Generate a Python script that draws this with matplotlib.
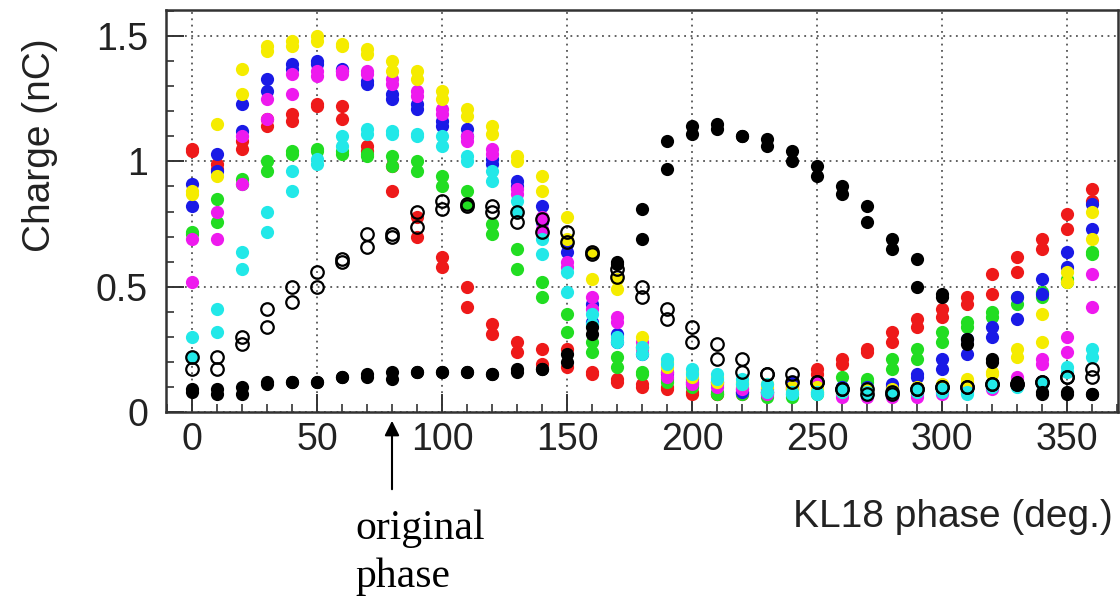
import numpy as np
import matplotlib
matplotlib.use("Agg")
import matplotlib.pyplot as plt
from matplotlib.ticker import MultipleLocator

# KL18 phase scan, two measurements per phase setting
phase = np.arange(0, 361, 10)

red_a = [1.05, 0.99, 1.08, 1.17, 1.19, 1.23, 1.22, 1.06, 0.98, 0.78, 0.62, 0.50, 0.35, 0.28, 0.25, 0.25, 0.16, 0.13, 0.11,
         0.10, 0.08, 0.07, 0.08, 0.08, 0.10, 0.17, 0.21, 0.25, 0.32, 0.37, 0.41, 0.46, 0.55, 0.62, 0.69, 0.79, 0.89]
red_b = [1.04, 0.97, 1.05, 1.14, 1.16, 1.22, 1.17, 1.04, 0.88, 0.70, 0.58, 0.42, 0.31, 0.24, 0.19, 0.18, 0.15, 0.12, 0.10,
         0.09, 0.07, 0.07, 0.07, 0.08, 0.09, 0.15, 0.19, 0.24, 0.28, 0.34, 0.38, 0.43, 0.47, 0.56, 0.65, 0.73, 0.84]

green_a = [0.72, 0.85, 0.93, 1.00, 1.04, 1.05, 1.04, 1.03, 1.02, 1.00, 0.94, 0.88, 0.75, 0.65, 0.52, 0.39, 0.28, 0.22, 0.16,
           0.13, 0.11, 0.08, 0.08, 0.07, 0.07, 0.08, 0.14, 0.13, 0.21, 0.25, 0.32, 0.36, 0.40, 0.46, 0.48, 0.53, 0.64]
green_b = [0.71, 0.76, 0.91, 0.96, 1.03, 1.04, 1.03, 1.02, 0.98, 0.96, 0.90, 0.83, 0.71, 0.57, 0.46, 0.32, 0.24, 0.18, 0.15,
           0.12, 0.10, 0.07, 0.07, 0.06, 0.06, 0.07, 0.10, 0.12, 0.17, 0.21, 0.28, 0.34, 0.38, 0.43, 0.46, 0.52, 0.63]

blue_a = [0.91, 1.03, 1.23, 1.33, 1.39, 1.40, 1.37, 1.32, 1.27, 1.23, 1.16, 1.13, 1.01, 0.92, 0.82, 0.67, 0.43, 0.31, 0.26,
          0.16, 0.13, 0.12, 0.09, 0.09, 0.12, 0.12, 0.10, 0.10, 0.11, 0.15, 0.21, 0.29, 0.34, 0.46, 0.53, 0.64, 0.83]
blue_b = [0.82, 0.96, 1.12, 1.28, 1.37, 1.39, 1.36, 1.31, 1.25, 1.21, 1.14, 1.10, 0.99, 0.90, 0.76, 0.64, 0.36, 0.28, 0.23,
          0.15, 0.12, 0.11, 0.08, 0.08, 0.11, 0.11, 0.09, 0.09, 0.10, 0.14, 0.17, 0.23, 0.30, 0.37, 0.47, 0.58, 0.73]

magenta_a = [0.69, 0.80, 1.10, 1.25, 1.35, 1.36, 1.36, 1.36, 1.33, 1.28, 1.21, 1.10, 1.05, 0.89, 0.78, 0.60, 0.46, 0.38, 0.28,
             0.16, 0.12, 0.12, 0.10, 0.08, 0.10, 0.12, 0.07, 0.07, 0.07, 0.07, 0.08, 0.11, 0.10, 0.14, 0.21, 0.30, 0.55]
magenta_b = [0.52, 0.69, 0.91, 1.17, 1.27, 1.34, 1.35, 1.35, 1.31, 1.26, 1.19, 1.08, 1.03, 0.87, 0.73, 0.58, 0.41, 0.36, 0.25,
             0.14, 0.11, 0.10, 0.09, 0.07, 0.09, 0.11, 0.06, 0.06, 0.06, 0.06, 0.07, 0.10, 0.09, 0.13, 0.19, 0.24, 0.42]

yellow_a = [0.88, 1.15, 1.37, 1.46, 1.48, 1.50, 1.47, 1.45, 1.40, 1.36, 1.28, 1.21, 1.14, 1.02, 0.94, 0.78, 0.64, 0.53, 0.30,
            0.20, 0.16, 0.14, 0.12, 0.11, 0.10, 0.10, 0.09, 0.09, 0.09, 0.10, 0.11, 0.13, 0.16, 0.25, 0.39, 0.56, 0.80]
yellow_b = [0.87, 0.94, 1.27, 1.44, 1.46, 1.48, 1.46, 1.43, 1.36, 1.33, 1.25, 1.18, 1.11, 1.00, 0.88, 0.69, 0.53, 0.49, 0.26,
            0.18, 0.14, 0.12, 0.11, 0.10, 0.09, 0.09, 0.08, 0.08, 0.08, 0.09, 0.10, 0.12, 0.15, 0.22, 0.28, 0.52, 0.69]

cyan_a = [0.30, 0.41, 0.64, 0.80, 0.96, 1.01, 1.10, 1.13, 1.12, 1.11, 1.10, 1.02, 0.96, 0.84, 0.69, 0.56, 0.39, 0.30, 0.26,
          0.21, 0.17, 0.15, 0.13, 0.11, 0.08, 0.08, 0.09, 0.08, 0.08, 0.09, 0.09, 0.08, 0.11, 0.11, 0.12, 0.18, 0.25]
cyan_b = [0.22, 0.32, 0.57, 0.72, 0.88, 0.99, 1.06, 1.11, 1.11, 1.10, 1.06, 1.00, 0.92, 0.80, 0.63, 0.48, 0.35, 0.28, 0.23,
          0.19, 0.15, 0.13, 0.11, 0.08, 0.07, 0.07, 0.08, 0.07, 0.07, 0.08, 0.08, 0.07, 0.10, 0.10, 0.11, 0.16, 0.22]

black_a = [0.09, 0.09, 0.10, 0.12, 0.12, 0.12, 0.14, 0.15, 0.16, 0.16, 0.16, 0.16, 0.15, 0.17, 0.17, 0.23, 0.34, 0.60, 0.81,
           1.08, 1.14, 1.15, 1.10, 1.09, 1.04, 0.98, 0.90, 0.82, 0.69, 0.61, 0.47, 0.29, 0.21, 0.12, 0.08, 0.08, 0.07]
black_b = [0.08, 0.07, 0.07, 0.11, 0.12, 0.12, 0.14, 0.14, 0.13, 0.16, 0.16, 0.16, 0.15, 0.16, 0.17, 0.20, 0.31, 0.59, 0.69,
           0.97, 1.11, 1.13, 1.10, 1.06, 1.00, 0.94, 0.87, 0.76, 0.65, 0.50, 0.46, 0.27, 0.20, 0.11, 0.07, 0.07, 0.07]

open_a = [0.22, 0.22, 0.30, 0.41, 0.50, 0.56, 0.61, 0.71, 0.71, 0.80, 0.84, 0.83, 0.82, 0.80, 0.77, 0.72, 0.64, 0.57, 0.50,
          0.41, 0.34, 0.27, 0.21, 0.15, 0.15, 0.12, 0.09, 0.09, 0.08, 0.09, 0.10, 0.10, 0.11, 0.11, 0.12, 0.14, 0.17]
open_b = [0.17, 0.17, 0.27, 0.34, 0.44, 0.50, 0.60, 0.66, 0.70, 0.74, 0.81, 0.82, 0.80, 0.76, 0.72, 0.68, 0.63, 0.54, 0.46,
          0.37, 0.28, 0.21, 0.16, 0.15, 0.12, 0.12, 0.09, 0.07, 0.07, 0.09, 0.10, 0.10, 0.11, 0.11, 0.12, 0.14, 0.14]

filled = [
    (red_a, red_b, "#ee1a1a"),
    (green_a, green_b, "#22dd22"),
    (blue_a, blue_b, "#1a1ae6"),
    (magenta_a, magenta_b, "#ee1aee"),
    (yellow_a, yellow_b, "#f5ec00"),
    (cyan_a, cyan_b, "#22e8e8"),
    (black_a, black_b, "#000000"),
]

sans = ["Liberation Sans Narrow", "Liberation Sans", "DejaVu Sans"]
serif = ["Liberation Serif", "DejaVu Serif"]

fig = plt.figure(figsize=(11.2, 6), dpi=100)
ax = fig.add_axes([166 / 1120, 188 / 600, 952 / 1120, 402 / 600])

for a, b, col in filled:
    for vals in (a, b):
        ax.plot(phase, vals, "o", color=col, markersize=9.5, markeredgewidth=0, linestyle="none")
for vals in (open_a, open_b):
    ax.plot(phase, vals, "o", mfc="none", mec="black", markersize=9.0, markeredgewidth=1.6, linestyle="none")

ax.set_xlim(-10.4, 370.4)
ax.set_ylim(0, 1.604)
ax.xaxis.set_minor_locator(MultipleLocator(10))
ax.yaxis.set_minor_locator(MultipleLocator(0.1))
ax.set_xticks([0, 50, 100, 150, 200, 250, 300, 350])
ax.set_xticklabels(["0", "50", "100", "150", "200", "250", "300", "350"])
ax.set_yticks([0, 0.5, 1.0, 1.5])
ax.set_yticklabels(["0", "0.5", "1", "1.5"])

ax.tick_params(which="both", direction="in", top=False, right=False, color="#333333")
ax.tick_params(which="major", length=13, width=1.4)
ax.tick_params(which="minor", length=6, width=1.2)
ax.tick_params(axis="x", pad=7, labelsize=27, labelcolor="#222222")
ax.tick_params(axis="y", pad=13, labelsize=27, labelcolor="#222222")
for lab in ax.get_xticklabels() + ax.get_yticklabels():
    lab.set_family(sans)

ax.grid(True, which="major", color="#555555", linestyle=(0, (1, 2.5)), linewidth=1.3)
ax.set_axisbelow(True)
for sp in ax.spines.values():
    sp.set_linewidth(1.8)
    sp.set_color("#333333")

fig.text(40 / 1120, 1 - 38 / 600, "Charge (nC)", rotation=90, ha="center", va="top",
         fontsize=28, family=sans, color="#222222")
fig.text(1113 / 1120, 1 - 517 / 600, "KL18 phase (deg.)", ha="right", va="center",
         fontsize=28, family=sans, color="#222222")

# original phase marker
ax.annotate("", xy=(80, 182), xycoords=("data", "figure pixels"),
            xytext=(80, 108), textcoords=("data", "figure pixels"),
            arrowprops=dict(arrowstyle="-|>", color="black", lw=1.5, mutation_scale=22))
fig.text(355 / 1120, 1 - 510 / 600, "original\nphase", ha="left", va="top",
         fontsize=30, family=serif, linespacing=1.3)

fig.savefig("out.png", dpi=100, facecolor="white")
